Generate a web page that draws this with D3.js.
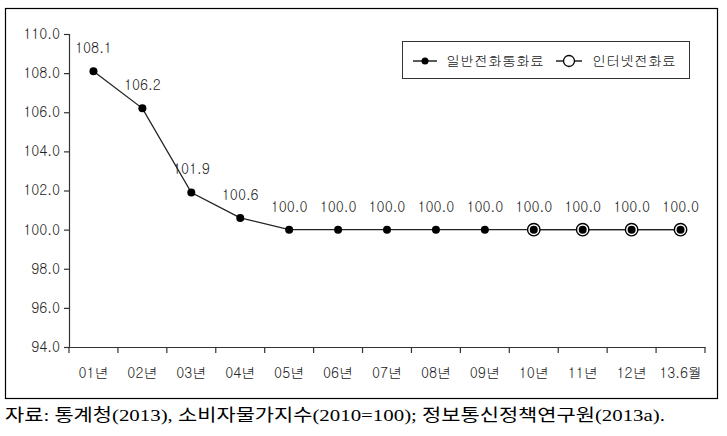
<!DOCTYPE html>
<html><head><meta charset="utf-8">
<script src="https://cdn.jsdelivr.net/npm/d3@7"></script>
<style>body{margin:0;background:#fff}svg{display:block}</style>
</head><body>
<svg id="c" width="727" height="436"></svg>
<script>
const categories = ["01년","02년","03년","04년","05년","06년","07년","08년","09년","10년","11년","12년","13.6월"];
const generalCall = [108.1,106.2,101.9,100.6,100.0,100.0,100.0,100.0,100.0,100.0,100.0,100.0,100.0];
const internetCall = [null,null,null,null,null,null,null,null,null,100.0,100.0,100.0,100.0];
const yTicks = [94,96,98,100,102,104,106,108,110];
const seriesNames = ["일반전화통화료","인터넷전화료"];
const sourceText = "자료: 통계청(2013), 소비자물가지수(2010=100); 정보통신정책연구원(2013a).";

const svg = d3.select("#c");
const font = "Gulim, Dotum, 'Noto Sans CJK KR', sans-serif";
svg.append("rect").attr("x",5.5).attr("y",8.5).attr("width",712).attr("height",390)
  .attr("fill","none").attr("stroke","#000").attr("stroke-width",1.2);

const x = d3.scaleBand().domain(categories).range([69,705]);
const y = d3.scaleLinear().domain([94,110]).range([347,34]);

const yAxis = svg.append("g").attr("transform","translate(69,0)")
  .call(d3.axisLeft(y).tickValues(yTicks).tickFormat(d3.format(".1f")).tickSize(5).tickPadding(4));
const xAxis = svg.append("g").attr("transform","translate(0,347)")
  .call(d3.axisBottom(x).tickSize(0).tickPadding(21));
[yAxis,xAxis].forEach(g=>{
  g.selectAll("path").attr("stroke","#333").attr("stroke-width",1.2);
  g.selectAll("line").attr("stroke","#333").attr("stroke-width",1.2);
  g.selectAll("text").attr("font-family",font).attr("font-size",14).attr("fill","#222");
});
// band boundary ticks on x
const bounds = categories.map(c=>x(c)).concat([x.range()[1]]);
svg.append("g").selectAll("line").data(bounds).join("line")
  .attr("x1",d=>d).attr("x2",d=>d).attr("y1",347).attr("y2",353).attr("stroke","#333").attr("stroke-width",1.2);

const cx = (d,i)=>x(categories[i])+x.bandwidth()/2;
const line = d3.line().defined(d=>d!=null).x(cx).y(d=>y(d));
svg.append("path").datum(generalCall).attr("d",line).attr("fill","none").attr("stroke","#222").attr("stroke-width",1.3);
svg.append("path").datum(internetCall).attr("d",line).attr("fill","none").attr("stroke","#222").attr("stroke-width",1.3);

// internet markers (open circles)
svg.append("g").selectAll("circle").data(internetCall.map((v,i)=>({v,i})).filter(d=>d.v!=null)).join("circle")
  .attr("cx",d=>cx(d.v,d.i)).attr("cy",d=>y(d.v)).attr("r",6.2)
  .attr("fill","#fff").attr("stroke","#000").attr("stroke-width",1.4);
// general markers
svg.append("g").selectAll("circle").data(generalCall).join("circle")
  .attr("cx",cx).attr("cy",d=>y(d)).attr("r",4).attr("fill","#000");
// data labels
svg.append("g").selectAll("text").data(generalCall).join("text")
  .attr("x",cx).attr("y",d=>y(d)-18).attr("text-anchor","middle")
  .attr("font-family",font).attr("font-size",14).attr("fill","#222")
  .text(d=>d3.format(".1f")(d));

// legend
const lg = svg.append("g");
lg.append("rect").attr("x",402.5).attr("y",41.5).attr("width",287).attr("height",37)
  .attr("fill","#fff").attr("stroke","#333").attr("stroke-width",1);
lg.append("line").attr("x1",413).attr("x2",437).attr("y1",61).attr("y2",61).attr("stroke","#000").attr("stroke-width",1.3);
lg.append("circle").attr("cx",425).attr("cy",61).attr("r",3.5).attr("fill","#000");
lg.append("text").attr("x",446).attr("y",66).attr("font-family",font).attr("font-size",14).attr("fill","#222").text(seriesNames[0]);
lg.append("line").attr("x1",556).attr("x2",582).attr("y1",61).attr("y2",61).attr("stroke","#000").attr("stroke-width",1.3);
lg.append("circle").attr("cx",569).attr("cy",61).attr("r",5.5).attr("fill","#fff").attr("stroke","#000").attr("stroke-width",1.3);
lg.append("text").attr("x",592).attr("y",66).attr("font-family",font).attr("font-size",14).attr("fill","#222").text(seriesNames[1]);

svg.append("text").attr("x",5).attr("y",421).attr("font-family","'Liberation Serif','Noto Sans CJK KR',serif")
  .attr("font-size",17).attr("textLength",660).attr("lengthAdjust","spacingAndGlyphs")
  .attr("fill","#000").text(sourceText);
</script>
</body></html>
